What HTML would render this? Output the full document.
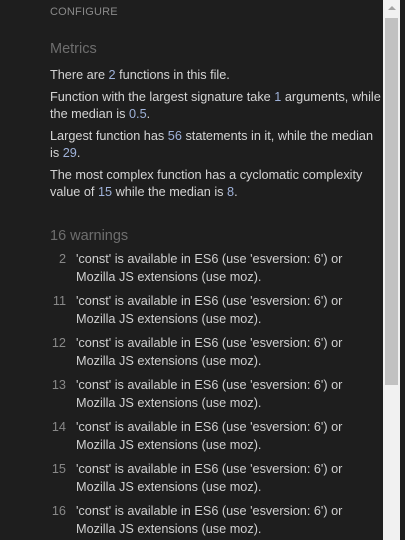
<!DOCTYPE html>
<html><head><style>
body{margin:0;width:405px;height:540px;background:#1e1e1e;overflow:hidden;font-family:"Liberation Sans",Arial,sans-serif;position:relative}
.t{position:absolute;left:50px;color:#d4d4d4;font-size:12.7px;line-height:17px;white-space:nowrap}
.n{color:#9fb2d9}
.h{position:absolute;left:50px;color:#6e6e6e;font-size:14.5px}
.w{position:absolute;left:40px;width:330px;font-size:12.7px;line-height:18px;color:#d0d0d0}
.w .num{position:absolute;left:0;width:26px;text-align:right;color:#888}
.w .tx{position:absolute;left:36px;white-space:nowrap}
</style></head><body>
<div style="position:absolute;left:50px;top:6px;font-size:11px;color:#8a8a8a;letter-spacing:0.2px">CONFIGURE</div>
<div class="h" style="top:41px">Metrics</div>
<div class="t" style="top:67px">There are <span class="n">2</span> functions in this file.</div>
<div class="t" style="top:89px">Function with the largest signature take <span class="n">1</span> arguments, while<br>the median is <span class="n">0.5</span>.</div>
<div class="t" style="top:128px">Largest function has <span class="n">56</span> statements in it, while the median<br>is <span class="n">29</span>.</div>
<div class="t" style="top:167px">The most complex function has a cyclomatic complexity<br>value of <span class="n">15</span> while the median is <span class="n">8</span>.</div>
<div class="h" style="top:228px">16 warnings</div>
<div class="w" style="top:250px"><span class="num">2</span><span class="tx">'const' is available in ES6 (use 'esversion: 6') or<br>Mozilla JS extensions (use moz).</span></div>
<div class="w" style="top:292px"><span class="num">11</span><span class="tx">'const' is available in ES6 (use 'esversion: 6') or<br>Mozilla JS extensions (use moz).</span></div>
<div class="w" style="top:334px"><span class="num">12</span><span class="tx">'const' is available in ES6 (use 'esversion: 6') or<br>Mozilla JS extensions (use moz).</span></div>
<div class="w" style="top:376px"><span class="num">13</span><span class="tx">'const' is available in ES6 (use 'esversion: 6') or<br>Mozilla JS extensions (use moz).</span></div>
<div class="w" style="top:418px"><span class="num">14</span><span class="tx">'const' is available in ES6 (use 'esversion: 6') or<br>Mozilla JS extensions (use moz).</span></div>
<div class="w" style="top:460px"><span class="num">15</span><span class="tx">'const' is available in ES6 (use 'esversion: 6') or<br>Mozilla JS extensions (use moz).</span></div>
<div class="w" style="top:502px"><span class="num">16</span><span class="tx">'const' is available in ES6 (use 'esversion: 6') or<br>Mozilla JS extensions (use moz).</span></div>
<div style="position:absolute;left:383px;top:0;width:17px;height:540px;background:#f1f1f1"></div>
<div style="position:absolute;left:388px;top:6px;width:0;height:0;border-left:4px solid transparent;border-right:4px solid transparent;border-bottom:4px solid #a3a3a3"></div>
<div style="position:absolute;left:385px;top:18px;width:13px;height:367px;background:#c1c1c1"></div>
</body></html>
